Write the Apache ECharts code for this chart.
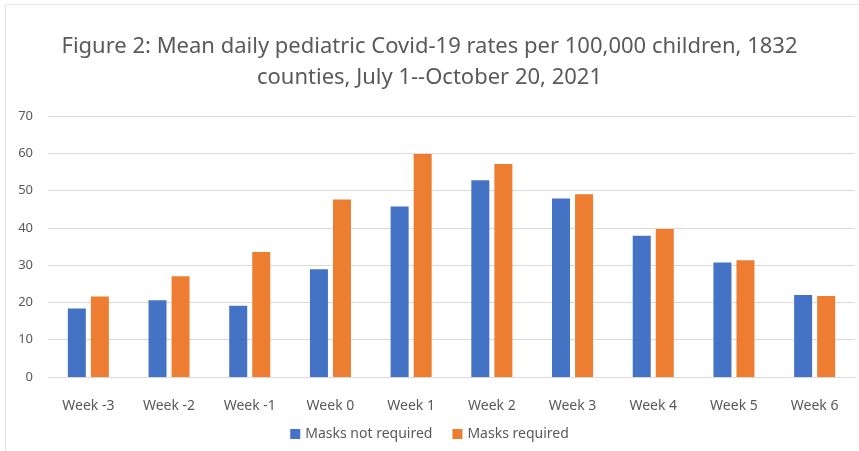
<!DOCTYPE html>
<html>
<head>
<meta charset="utf-8">
<script src="https://cdn.jsdelivr.net/npm/echarts@6/dist/echarts.min.js"></script>
<style>
  html, body { margin: 0; padding: 0; background: #fff; }
  #main { width: 859px; height: 451px; }
</style>
</head>
<body>
<div id="main"></div>
<script>
// weeks relative to school start
var weeks = ['Week -3', 'Week -2', 'Week -1', 'Week 0', 'Week 1', 'Week 2', 'Week 3', 'Week 4', 'Week 5', 'Week 6']
var masksNotRequired = [18.4, 20.6, 19.1, 28.9, 45.7, 52.8, 47.9, 37.9, 30.7, 22.0]
var masksRequired = [21.6, 27.0, 33.5, 47.6, 59.8, 57.1, 49.0, 39.7, 31.3, 21.7]
var yTicks = [0, 10, 20, 30, 40, 50, 60, 70]

var textColor = '#595959'
var gridColor = '#d9d9d9'
var font = 'Noto Sans'

var chart = echarts.init(document.getElementById('main'))
chart.setOption({
  animation: false,
  backgroundColor: '#fff',
  title: {
    text: 'Figure 2: Mean daily pediatric Covid-19 rates per 100,000 children, 1832\ncounties, July 1--October 20, 2021',
    left: 'center',
    top: 26,
    textStyle: {
      color: textColor,
      fontFamily: font,
      fontWeight: 'normal',
      fontSize: 22,
      lineHeight: 31
    }
  },
  graphic: [{
    type: 'rect',
    shape: { x: 5.5, y: 4.5, width: 870, height: 470 },
    style: { fill: 'none', stroke: '#e6e6e6', lineWidth: 1 },
    silent: true
  }],
  legend: {
    bottom: 5,
    left: 'center',
    itemWidth: 10,
    itemHeight: 10,
    itemGap: 20,
    icon: 'rect',
    textStyle: { color: textColor, fontFamily: font, fontSize: 14 },
    data: ['Masks not required', 'Masks required']
  },
  grid: { left: 48, right: 4, top: 116, bottom: 74, containLabel: false },
  xAxis: {
    type: 'category',
    data: weeks,
    axisLine: { lineStyle: { color: gridColor } },
    axisTick: { show: false },
    axisLabel: { color: textColor, fontFamily: font, fontSize: 14, margin: 22, interval: 0 }
  },
  yAxis: {
    type: 'value',
    min: yTicks[0],
    max: yTicks[yTicks.length - 1],
    interval: 10,
    axisLine: { show: false },
    axisTick: { show: false },
    splitLine: { lineStyle: { color: gridColor } },
    axisLabel: { color: textColor, fontFamily: font, fontSize: 13, margin: 15 }
  },
  series: [
    {
      name: 'Masks not required',
      type: 'bar',
      data: masksNotRequired,
      barWidth: 18,
      barGap: '28%',
      itemStyle: { color: '#4472C4' }
    },
    {
      name: 'Masks required',
      type: 'bar',
      data: masksRequired,
      barWidth: 18,
      itemStyle: { color: '#ED7D31' }
    }
  ]
})
</script>
</body>
</html>
